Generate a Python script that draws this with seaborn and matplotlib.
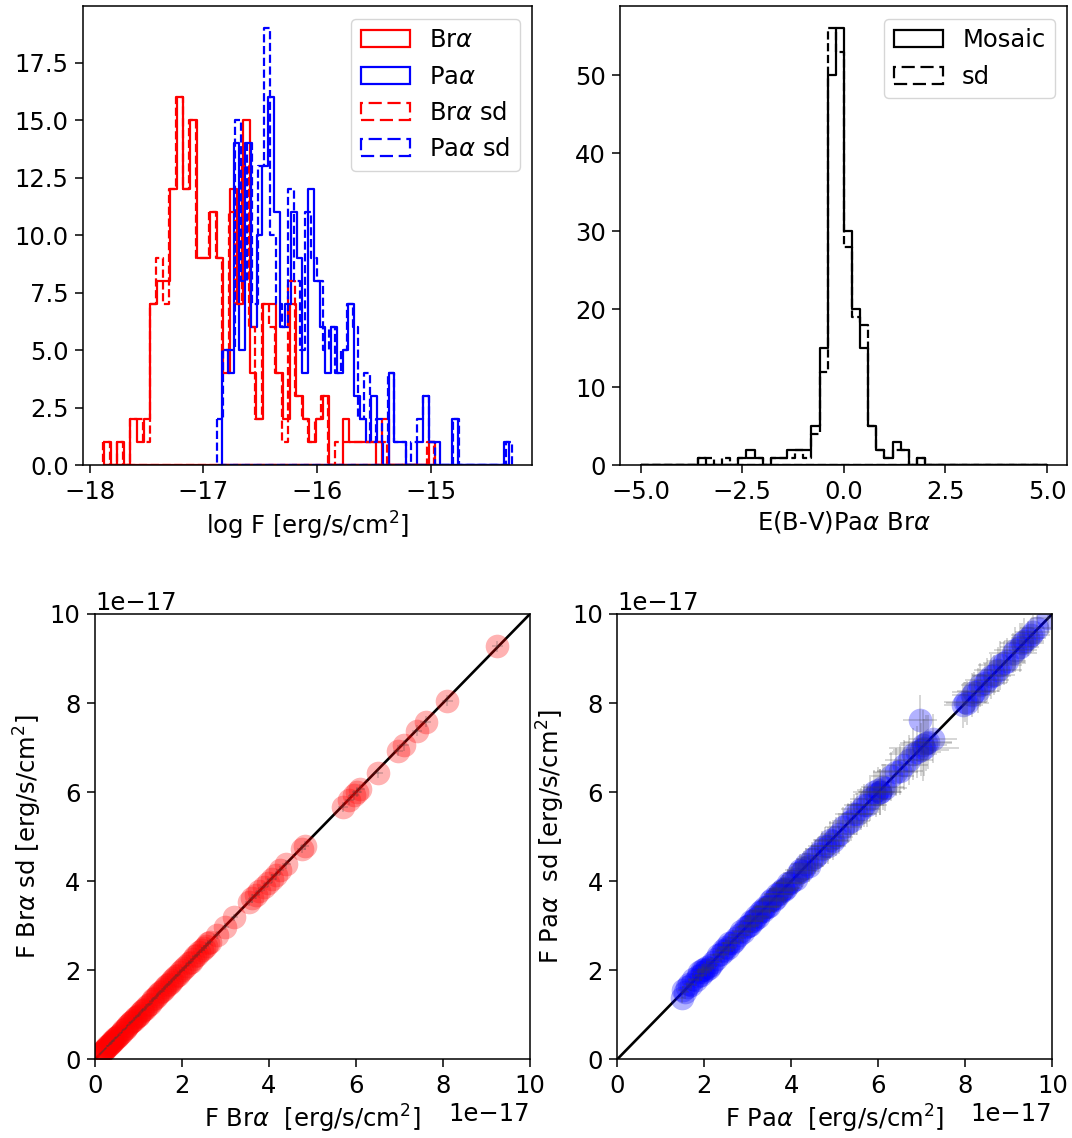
import numpy as np
import pandas as pd
import seaborn as sns
import matplotlib
matplotlib.use("Agg")
import matplotlib.pyplot as plt
from matplotlib.ticker import MultipleLocator

# ---- top left: log F histograms, 50 bins over [lo, hi] ----
br_range = (-17.875, -14.96)
br_counts = [1, 0, 1, 0, 2, 1, 2, 7, 8, 8,
             12, 16, 12, 15, 9, 9, 11, 9, 4, 12,
             7, 15, 4, 2, 7, 7, 4, 2, 7, 3,
             2, 1, 2, 3, 0, 0, 2, 1, 1, 1,
             1, 0, 2, 0, 0, 0, 0, 0, 0, 1]

pa_range = (-16.836, -14.31)
pa_counts = [5, 4, 14, 5, 14, 6, 10, 13, 16, 11,
             6, 7, 11, 9, 4, 12, 8, 6, 4, 6,
             4, 5, 7, 3, 2, 1, 3, 1, 0, 4,
             1, 1, 0, 0, 1, 3, 1, 1, 0, 0,
             2, 0, 0, 0, 0, 0, 0, 0, 0, 1]

br_sd_range = (-17.88, -14.975)
br_sd_counts = [1, 0, 1, 0, 2, 2, 1, 7, 9, 7,
                12, 16, 12, 15, 9, 9, 11, 9, 5, 11,
                7, 13, 6, 2, 7, 6, 4, 1, 8, 3,
                2, 1, 2, 3, 0, 1, 1, 1, 1, 1,
                1, 1, 1, 0, 0, 0, 0, 0, 0, 1]

pa_sd_range = (-16.88, -14.29)
pa_sd_counts = [2, 5, 5, 15, 8, 14, 7, 13, 19, 10,
                7, 6, 12, 8, 5, 11, 9, 8, 5, 6,
                4, 5, 7, 6, 2, 4, 1, 2, 1, 4,
                1, 1, 0, 1, 2, 3, 1, 0, 0, 0,
                2, 0, 0, 0, 0, 0, 0, 0, 0, 1]

# ---- top right: E(B-V) histogram, 50 bins over [-5, 5] ----
ebv_range = (-5.0, 5.0)
ebv_counts = [0, 0, 0, 0, 0, 0, 0, 1, 0, 0,
              0, 0, 1, 2, 1, 0, 1, 1, 2, 2,
              2, 5, 15, 50, 56, 30, 20, 15, 5, 2,
              1, 3, 2, 0, 1, 0, 0, 0, 0, 0,
              0, 0, 0, 0, 0, 0, 0, 0, 0, 0]
ebv_sd_counts = [0, 0, 0, 0, 0, 0, 0, 1, 1, 0,
                 1, 0, 1, 1, 1, 0, 1, 1, 1, 2,
                 1, 4, 12, 56, 53, 28, 19, 18, 5, 2,
                 1, 2, 2, 0, 1, 0, 0, 0, 0, 0,
                 0, 0, 0, 0, 0, 0, 0, 0, 0, 0]

# ---- bottom: fluxes in units of 1e-17 erg/s/cm2 ----
UNIT = 1e-17
br_flux = [0.12, 0.14, 0.16, 0.18, 0.20, 0.22, 0.24, 0.26, 0.28, 0.30,
           0.32, 0.34, 0.36, 0.38, 0.40, 0.42, 0.44, 0.46, 0.48, 0.50,
           0.53, 0.56, 0.59, 0.62, 0.65, 0.68, 0.71, 0.74, 0.77, 0.80,
           0.83, 0.86, 0.89, 0.92, 0.95, 0.98, 1.01, 1.04, 1.07, 1.10,
           1.14, 1.18, 1.22, 1.26, 1.30, 1.34, 1.38, 1.42, 1.46, 1.50,
           1.54, 1.58, 1.62, 1.66, 1.70, 1.74, 1.78, 1.82, 1.86, 1.90,
           1.95, 2.00, 2.05, 2.10, 2.15, 2.20, 2.25, 2.30, 2.35, 2.40,
           2.45, 2.50, 2.55, 2.60, 2.64,
           2.80, 3.00, 3.20, 3.55, 3.62, 3.70, 3.78, 3.88, 3.97, 4.06,
           4.15, 4.25, 4.40, 4.75, 4.82, 5.70, 5.85, 5.95, 6.02, 6.10,
           6.50, 6.97, 7.10, 7.40, 7.60, 8.10, 9.25]
br_sd_flux = [0.11, 0.14, 0.17, 0.18, 0.20, 0.23, 0.24, 0.26, 0.29, 0.30,
              0.32, 0.35, 0.36, 0.38, 0.41, 0.42, 0.44, 0.47, 0.48, 0.50,
              0.53, 0.55, 0.59, 0.62, 0.66, 0.68, 0.70, 0.74, 0.77, 0.81,
              0.83, 0.85, 0.89, 0.92, 0.96, 0.98, 1.00, 1.04, 1.08, 1.10,
              1.13, 1.18, 1.22, 1.25, 1.30, 1.35, 1.38, 1.41, 1.46, 1.51,
              1.54, 1.57, 1.62, 1.67, 1.70, 1.73, 1.78, 1.83, 1.86, 1.89,
              1.95, 2.01, 2.04, 2.10, 2.16, 2.19, 2.25, 2.31, 2.34, 2.40,
              2.46, 2.49, 2.55, 2.61, 2.63,
              2.79, 2.98, 3.19, 3.54, 3.61, 3.69, 3.77, 3.87, 3.95, 4.05,
              4.13, 4.24, 4.38, 4.73, 4.80, 5.66, 5.82, 5.93, 6.00, 6.08,
              6.43, 6.93, 7.05, 7.38, 7.58, 8.05, 9.27]
br_err = [0.02, 0.02, 0.02, 0.02, 0.02, 0.02, 0.02, 0.02, 0.02, 0.02,
          0.03, 0.03, 0.03, 0.03, 0.03, 0.03, 0.03, 0.03, 0.03, 0.03,
          0.03, 0.03, 0.03, 0.03, 0.03, 0.03, 0.03, 0.03, 0.03, 0.03,
          0.04, 0.04, 0.04, 0.04, 0.04, 0.04, 0.04, 0.04, 0.04, 0.04,
          0.05, 0.05, 0.05, 0.05, 0.05, 0.05, 0.05, 0.05, 0.05, 0.05,
          0.05, 0.05, 0.05, 0.05, 0.05, 0.05, 0.05, 0.05, 0.05, 0.05,
          0.06, 0.06, 0.06, 0.06, 0.06, 0.06, 0.06, 0.06, 0.06, 0.06,
          0.07, 0.07, 0.07, 0.07, 0.07,
          0.08, 0.08, 0.08, 0.09, 0.09, 0.09, 0.09, 0.09, 0.09, 0.10,
          0.10, 0.10, 0.10, 0.10, 0.10, 0.11, 0.11, 0.11, 0.11, 0.11,
          0.11, 0.12, 0.12, 0.12, 0.12, 0.12, 0.13]

pa_flux = [1.48, 1.50, 1.55, 1.60, 1.65, 1.70, 1.75, 1.80, 1.85, 1.88,
           1.92, 1.95, 1.98, 2.00, 2.03, 2.06, 2.10, 2.15, 2.20, 2.26,
           2.32, 2.38, 2.42, 2.46, 2.50, 2.54, 2.58, 2.63, 2.68, 2.74,
           2.80, 2.85, 2.90, 2.95, 3.00, 3.04, 3.08, 3.12, 3.16, 3.20,
           3.24, 3.28, 3.32, 3.36, 3.40, 3.44, 3.48, 3.52, 3.56, 3.60,
           3.64, 3.68, 3.72, 3.76, 3.80, 3.84, 3.88, 3.92, 3.96, 4.02,
           4.10, 4.15, 4.20, 4.25, 4.30, 4.35, 4.40, 4.48, 4.55, 4.62,
           4.70, 4.78, 4.85, 4.90, 4.95, 5.02, 5.10, 5.20, 5.30, 5.38,
           5.45, 5.52, 5.60, 5.68, 5.75, 5.82, 5.90, 5.95, 6.00, 6.03,
           6.05, 6.10, 6.15, 6.30, 6.40, 6.50, 6.60, 6.70, 6.80, 6.88,
           6.96, 6.98, 7.02, 7.05, 7.10, 7.15, 7.25, 7.95, 8.00, 8.05,
           8.15, 8.20, 8.30, 8.35, 8.45, 8.50, 8.60, 8.65, 8.75, 8.80,
           8.90, 8.95, 9.10, 9.15, 9.25, 9.30, 9.35, 9.45, 9.50, 9.55,
           9.65, 9.90]
pa_sd_flux = [1.38, 1.55, 1.50, 1.62, 1.68, 1.66, 1.80, 1.78, 1.88, 1.95,
              1.90, 2.00, 1.97, 2.02, 2.00, 2.08, 2.05, 2.12, 2.18, 2.25,
              2.35, 2.36, 2.45, 2.44, 2.52, 2.50, 2.60, 2.62, 2.65, 2.72,
              2.78, 2.88, 2.85, 2.98, 3.00, 3.02, 3.10, 3.10, 3.15, 3.22,
              3.20, 3.30, 3.35, 3.33, 3.42, 3.42, 3.45, 3.55, 3.60, 3.58,
              3.62, 3.70, 3.70, 3.78, 3.82, 3.80, 3.85, 3.95, 3.95, 4.00,
              4.05, 4.18, 4.25, 4.22, 4.30, 4.38, 4.35, 4.50, 4.55, 4.60,
              4.72, 4.80, 4.80, 4.92, 4.90, 5.00, 5.05, 5.22, 5.30, 5.35,
              5.50, 5.50, 5.62, 5.70, 5.70, 5.85, 6.00, 5.95, 6.05, 6.00,
              6.00, 6.12, 6.10, 6.35, 6.45, 6.48, 6.60, 6.72, 6.85, 6.90,
              7.62, 6.95, 7.05, 7.00, 7.10, 7.12, 7.20, 7.95, 8.02, 8.00,
              8.18, 8.25, 8.28, 8.40, 8.45, 8.52, 8.60, 8.62, 8.75, 8.85,
              8.90, 8.95, 9.12, 9.20, 9.25, 9.35, 9.40, 9.45, 9.52, 9.60,
              9.68, 9.90]
pa_xerr = [0.10, 0.10, 0.10, 0.12, 0.12, 0.12, 0.12, 0.14, 0.14, 0.14,
           0.14, 0.15, 0.15, 0.15, 0.15, 0.16, 0.16, 0.16, 0.17, 0.17,
           0.18, 0.18, 0.18, 0.19, 0.19, 0.20, 0.20, 0.20, 0.21, 0.21,
           0.22, 0.22, 0.22, 0.23, 0.23, 0.24, 0.24, 0.24, 0.25, 0.25,
           0.25, 0.26, 0.26, 0.26, 0.27, 0.27, 0.28, 0.28, 0.28, 0.29,
           0.29, 0.30, 0.30, 0.30, 0.31, 0.31, 0.32, 0.32, 0.32, 0.33,
           0.33, 0.34, 0.34, 0.35, 0.35, 0.35, 0.36, 0.36, 0.37, 0.38,
           0.38, 0.39, 0.40, 0.40, 0.40, 0.41, 0.42, 0.42, 0.43, 0.44,
           0.44, 0.45, 0.45, 0.46, 0.46, 0.47, 0.48, 0.48, 0.50, 0.50,
           0.50, 0.50, 0.50, 0.52, 0.52, 0.53, 0.54, 0.55, 0.56, 0.56,
           0.40, 0.65, 0.55, 0.80, 0.60, 0.55, 0.55, 0.45, 0.50, 0.50,
           0.45, 0.50, 0.50, 0.45, 0.50, 0.50, 0.45, 0.50, 0.55, 0.50,
           0.50, 0.45, 0.55, 0.50, 0.45, 0.50, 0.45, 0.40, 0.45, 0.40,
           0.40, 0.40]
pa_yerr = [0.12, 0.10, 0.11, 0.12, 0.12, 0.13, 0.13, 0.14, 0.14, 0.15,
           0.15, 0.15, 0.16, 0.16, 0.16, 0.17, 0.17, 0.17, 0.18, 0.18,
           0.18, 0.19, 0.19, 0.20, 0.20, 0.20, 0.21, 0.21, 0.22, 0.22,
           0.22, 0.23, 0.23, 0.24, 0.24, 0.25, 0.25, 0.25, 0.26, 0.26,
           0.26, 0.27, 0.27, 0.28, 0.28, 0.28, 0.29, 0.29, 0.30, 0.30,
           0.30, 0.31, 0.31, 0.32, 0.32, 0.33, 0.33, 0.33, 0.34, 0.34,
           0.35, 0.35, 0.36, 0.36, 0.37, 0.37, 0.38, 0.38, 0.39, 0.40,
           0.40, 0.41, 0.41, 0.42, 0.43, 0.43, 0.44, 0.44, 0.45, 0.46,
           0.46, 0.47, 0.47, 0.48, 0.48, 0.49, 0.50, 0.50, 0.51, 0.52,
           0.52, 0.52, 0.53, 0.54, 0.54, 0.55, 0.56, 0.57, 0.58, 0.58,
           0.55, 0.60, 0.80, 0.65, 0.62, 0.60, 0.55, 0.50, 0.45, 0.50,
           0.50, 0.45, 0.50, 0.50, 0.45, 0.50, 0.50, 0.45, 0.50, 0.55,
           0.50, 0.50, 0.45, 0.50, 0.55, 0.45, 0.50, 0.40, 0.40, 0.45,
           0.40, 0.35]

flux_lim = (0, 10)


def step_hist(ax, rng, counts, color, ls, label):
    # one row per bin, weighted by its count
    edges = np.linspace(rng[0], rng[1], len(counts) + 1)
    df = pd.DataFrame({"x": 0.5 * (edges[:-1] + edges[1:]),
                       "w": np.asarray(counts, dtype=float)})
    sns.histplot(data=df, x="x", weights="w", bins=len(counts), binrange=rng,
                 element="step", fill=True, color=color, facecolor="none",
                 edgecolor=color, linestyle=ls, linewidth=1.6, label=label,
                 ax=ax)


def flux_panel(ax, fx, fy, xerr, yerr, color, xlabel, ylabel):
    fx = np.array(fx) * UNIT
    fy = np.array(fy) * UNIT
    lim = np.array(flux_lim) * UNIT
    ax.plot(lim, lim, color="k", lw=1.9, zorder=1)
    sns.scatterplot(x=fx, y=fy, color=color, alpha=0.3, s=290,
                    linewidth=0, zorder=2, ax=ax)
    ax.errorbar(fx, fy, xerr=np.array(xerr) * UNIT, yerr=np.array(yerr) * UNIT,
                fmt="none", ecolor="0.25", alpha=0.25, elinewidth=1.2, zorder=3)
    ax.set_xlim(lim)
    ax.set_ylim(lim)
    ax.ticklabel_format(axis="both", style="sci", scilimits=(-17, -17))
    ax.set_xlabel(xlabel)
    ax.set_ylabel(ylabel)


plt.rcParams.update({
    "font.size": 17.5,
    "axes.linewidth": 1.1,
    "xtick.major.size": 5.8, "ytick.major.size": 5.8,
    "xtick.major.width": 1.1, "ytick.major.width": 1.1,
    "xtick.major.pad": 4.5, "ytick.major.pad": 4.5,
})

fig = plt.figure(figsize=(10.72, 11.38), dpi=100)
ax_tl = fig.add_axes([0.0774, 0.5910, 0.4188, 0.4033])
ax_tr = fig.add_axes([0.5788, 0.5910, 0.4168, 0.4033])
ax_bl = fig.add_axes([0.0886, 0.0692, 0.4058, 0.3913])
ax_br = fig.add_axes([0.5758, 0.0692, 0.4058, 0.3913])

step_hist(ax_tl, br_range, br_counts, "red", "-", r"Br$\alpha$")
step_hist(ax_tl, pa_range, pa_counts, "blue", "-", r"Pa$\alpha$")
step_hist(ax_tl, br_sd_range, br_sd_counts, "red", "--", r"Br$\alpha$ sd")
step_hist(ax_tl, pa_sd_range, pa_sd_counts, "blue", "--", r"Pa$\alpha$ sd")
ax_tl.set_xlabel(r"log F [erg/s/cm$^2$]")
ax_tl.set_ylabel("")
ax_tl.legend(loc="upper right")

step_hist(ax_tr, ebv_range, ebv_counts, "black", "-", "Mosaic")
step_hist(ax_tr, ebv_range, ebv_sd_counts, "black", "--", "sd")
ax_tr.xaxis.set_major_locator(MultipleLocator(2.5))
ax_tr.set_xlabel(r"E(B-V)Pa$\alpha$ Br$\alpha$")
ax_tr.set_ylabel("")
ax_tr.legend(loc="upper right")

flux_panel(ax_bl, br_flux, br_sd_flux, br_err, br_err, "red",
           r"F Br$\alpha$  [erg/s/cm$^2$]", r"F Br$\alpha$ sd [erg/s/cm$^2$]")
flux_panel(ax_br, pa_flux, pa_sd_flux, pa_xerr, pa_yerr, "blue",
           r"F Pa$\alpha$  [erg/s/cm$^2$]", r"F Pa$\alpha$  sd [erg/s/cm$^2$]")

fig.savefig("out.png", dpi=100)
